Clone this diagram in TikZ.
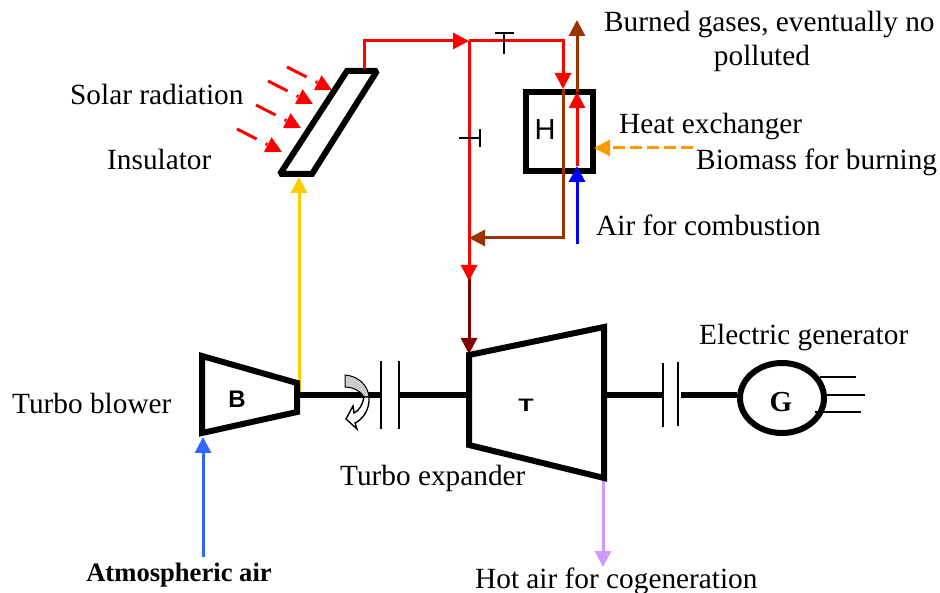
\documentclass[tikz,border=0pt]{standalone}
\usepackage{fontspec}
\setmainfont{Liberation Serif}
\setsansfont{Liberation Sans}
\usetikzlibrary{arrows.meta,shapes,positioning}
\definecolor{pipered}{RGB}{255,0,0}
\definecolor{pipebrown}{RGB}{153,51,0}
\definecolor{pipedark}{RGB}{128,0,0}
\definecolor{pipeyellow}{RGB}{255,204,0}
\definecolor{pipeorange}{RGB}{255,153,0}
\definecolor{pipeblue}{RGB}{0,0,255}
\definecolor{pipesky}{RGB}{51,102,255}
\definecolor{pipeviolet}{RGB}{204,153,255}
\tikzset{
  every picture/.style = {
    x = 1pt,
    y = -1pt,
    >={Triangle[length=16pt,width=16pt]},
  }
  ,
  machine/.style = {
    draw,
    line width = 6pt,
    miter limit = 2
  }
  ,
  shaft/.style = {
    line width = 6pt
  }
  ,
  clutch/.style = {
    line width = 1.8pt
  }
  ,
  pipe/.style = {
    line width = 3pt
  }
  , % labels of the parts
  label-text/.style = {
    font = \fontsize{29.3}{33}\selectfont,
    inner sep = 0pt
  }
}

\begin{document}
\begin{tikzpicture}
\useasboundingbox (0,0) rectangle (940,593);

% insulator
\draw [machine] (280,174) coordinate (ins-a) -- (347,71) -- (377,71) coordinate (ins-b) -- (312,174) -- cycle;
\node [label-text, anchor=west] (solar) at (70,94) {Solar radiation};
\node [label-text, anchor=west] (ins) at (107,159) {Insulator};

% sun rays
\foreach \sx/\sy [count=\i] in {287/67, 268/81, 256/105, 237/129} {
  \coordinate (ray-s\i) at (\sx,\sy);
  \coordinate (ray-e\i) at (\sx+45,\sy+23);
  \draw [->, pipered, pipe, dash pattern=on 22pt off 10pt on 2pt off 10pt] (ray-s\i) -- (ray-e\i);
}

% heater
\node [draw, line width=6pt, minimum width=67pt, minimum height=79pt, inner sep=0pt] (heater) at (559.5,131.5) {};
\node [font=\sffamily\fontsize{29}{33}\selectfont, inner sep=0pt] (h) at (545,130) {H};
\coordinate (hot-a) at (364,69);
\coordinate (hot-b) at (364,41);
\coordinate (hot-c) at (469,41);
\coordinate (hot-d) at (563,41);
\coordinate (hot-e) at (563,89);
\coordinate (hot-f) at (563,238);
\coordinate (hot-g) at (469,238);
\coordinate (hot-h) at (469,281);
\coordinate (hot-i) at (469,354);
\draw [pipedark, pipe, -{Triangle[length=16pt,width=16pt]}] (hot-h) ++(0,-15) -- (hot-i);
\draw [->, pipered, pipe] (hot-c) -- (hot-h);
\draw [->, pipered, pipe] (hot-a) -- (hot-b) -- (hot-c);
\draw [->, pipebrown, pipe] (hot-e) -- (hot-f) -- (hot-g);
\draw [->, pipered, pipe] (hot-c) -- (hot-d) -- (hot-e);

% valves
\coordinate (vt-a) at (504,33);
\coordinate (vt-b) at (504,54);
\draw [line width=1.8pt] (495,33) -- (514,33) (vt-a) -- (vt-b);
\coordinate (vs-a) at (480,138);
\coordinate (vs-b) at (459,138);
\draw [line width=1.8pt] (480,129) -- (480,147) (vs-a) -- (vs-b);

% heater streams
\coordinate (air-in) at (577,244);
\coordinate (air-mid) at (577,166);
\coordinate (air-top) at (577,92);
\coordinate (gas-top) at (577,20);
\coordinate (bio-in) at (693,148);
\coordinate (bio-end) at (594,148);
\draw [->, pipebrown, pipe] (air-top) -- (gas-top);
\draw [->, pipered, pipe] (air-mid) -- (air-top);
\draw [->, pipeblue, pipe] (air-in) -- (air-mid);
\draw [->, pipeorange, pipe, dash pattern=on 12pt off 5pt] (bio-in) -- (bio-end);
\node [label-text, anchor=west] (burned) at (604,25) {Burned gases, eventually no};
\node [label-text] (polluted) at (762,58) {polluted};
\node [label-text, anchor=west] (heat) at (619,127) {Heat exchanger};
\node [label-text, anchor=west] (bio) at (696,162) {Biomass for burning};
\node [label-text, anchor=west] (air) at (596,225) {Air for combustion};

% blower
\draw [pipeyellow, pipe, -{Triangle[length=16pt,width=16pt]}] (299,395) coordinate (bl-out) -- (299,177) coordinate (ins-in);
\draw [machine] (202,356) -- (297,383) -- (297,412) -- (202,433) -- cycle;
\node [font=\sffamily\bfseries\fontsize{24}{28}\selectfont, inner sep=0pt] (b) at (237,399) {B};
\node [label-text, anchor=west] (blower) at (12,403) {Turbo blower};
\coordinate (atm-a) at (203,557);
\coordinate (atm-b) at (203,437);
\draw [->, pipesky, pipe] (atm-a) -- (atm-b);
\node [label-text, font=\bfseries\fontsize{26.6}{30}\selectfont] (atm) at (179,575) {Atmospheric air};

% expander
\coordinate (exh-a) at (603,478);
\coordinate (exh-b) at (603,567);
\draw [->, pipeviolet, pipe] (exh-a) -- (exh-b);
\draw [machine] (469,355) -- (604,327) -- (604,478) -- (469,445) -- cycle;
\node [font=\sffamily\bfseries\fontsize{18}{22}\selectfont, inner sep=0pt] (t) at (526,405) {\scalebox{1.4}[1]{T}};
\node [label-text, anchor=west] (expander) at (340,478) {Turbo expander};
\node [label-text, anchor=west] (hotair) at (475,581) {Hot air for cogeneration};

% shafts and couplings
\coordinate (sh-a) at (300,395);
\coordinate (sh-b) at (380,395);
\coordinate (sh-c) at (400,395);
\coordinate (sh-d) at (469,395);
\draw [shaft] (sh-a) -- (sh-b) (sh-c) -- (sh-d);
\draw [clutch] (381,361) -- (381,429) (399,361) -- (399,429);
\coordinate (sh-e) at (604,395);
\coordinate (sh-f) at (662,395);
\coordinate (sh-g) at (681,395);
\draw [clutch] (663,363) -- (663,427) (678,362) -- (678,426);

% rotation sign
\draw [fill=black!20, line width=1pt] (345,375) .. controls (358,376) and (368,385) .. (369,397)
  -- (364,397) .. controls (360,390) and (352,387) .. (345,387) -- cycle;
\draw [fill=white, line width=1.4pt] (369,397) .. controls (370,410) and (362,420) .. (355,423)
  -- (357,429) -- (346,419) -- (353,406) -- (354,413) .. controls (359,411) and (363,404) .. (364,397) -- cycle;

% generator
\node [draw, ellipse, line width=6pt, minimum width=84pt, minimum height=70pt, inner sep=0pt] (gen) at (782,398) {};
\node [font=\bfseries\fontsize{29}{33}\selectfont, inner sep=0pt] (g) at (781,402) {G};
\draw [shaft] (sh-e) -- (sh-f) (sh-g) -- (sh-g -| gen.west);
\draw [clutch] (820,377) -- (856,377) (826,395) -- (865,395) (815,412) -- (861,412);
\node [label-text, anchor=west] (elec) at (699,337) {Electric generator};
\end{tikzpicture}
\end{document}
